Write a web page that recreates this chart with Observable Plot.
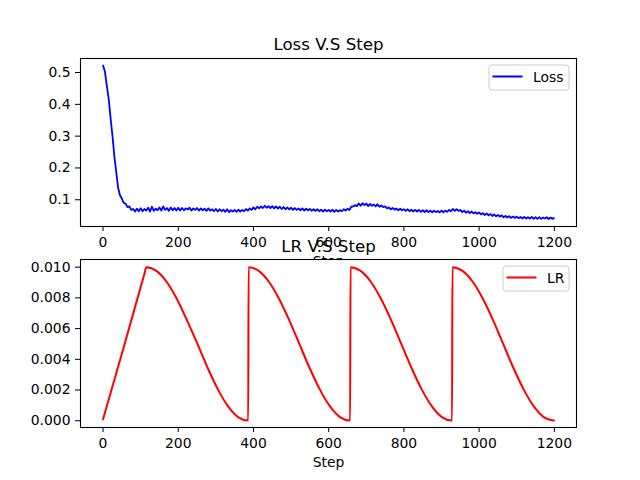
<!DOCTYPE html>
<html>
<head>
<meta charset="utf-8">
<script src="https://cdn.jsdelivr.net/npm/d3@7"></script>
<script src="https://cdn.jsdelivr.net/npm/@observablehq/plot@0.6"></script>
<style>
  body { margin: 0; background: white; }
  #fig { position: relative; width: 640px; height: 480px; background: white; overflow: hidden; }
  #fig svg { position: absolute; left: 0; }
</style>
</head>
<body>
<div id="fig"></div>
<script>
// ---- Data ----
const xTicks = [0, 200, 400, 600, 800, 1000, 1200];
const lossTicks = [0.1, 0.2, 0.3, 0.4, 0.5];
const lrTicks = [0.000, 0.002, 0.004, 0.006, 0.008, 0.010];

// loss sampled every 5 steps (0..1195) plus the last step 1199
const lossSteps = d3.range(0, 1200, 5).concat([1199]);
const lossValues = [
  0.522, 0.503, 0.458, 0.418, 0.357, 0.302, 0.238, 0.188, 0.138, 0.114,
  0.104, 0.090, 0.088, 0.077, 0.079, 0.068, 0.071, 0.063, 0.072, 0.064,
  0.073, 0.064, 0.071, 0.066, 0.075, 0.063, 0.078, 0.065, 0.072, 0.067,
  0.076, 0.066, 0.079, 0.068, 0.074, 0.065, 0.076, 0.067, 0.074, 0.066,
  0.075, 0.066, 0.074, 0.067, 0.073, 0.069, 0.075, 0.066, 0.073, 0.068,
  0.074, 0.066, 0.073, 0.067, 0.072, 0.065, 0.073, 0.066, 0.070, 0.064,
  0.071, 0.063, 0.070, 0.064, 0.069, 0.062, 0.070, 0.061, 0.067, 0.063,
  0.068, 0.062, 0.069, 0.063, 0.068, 0.064, 0.071, 0.066, 0.073, 0.068,
  0.076, 0.070, 0.078, 0.073, 0.079, 0.074, 0.081, 0.075, 0.080, 0.074,
  0.080, 0.073, 0.079, 0.072, 0.078, 0.071, 0.077, 0.070, 0.076, 0.070,
  0.075, 0.068, 0.074, 0.068, 0.073, 0.067, 0.073, 0.066, 0.072, 0.067,
  0.071, 0.065, 0.070, 0.065, 0.070, 0.064, 0.069, 0.063, 0.069, 0.064,
  0.068, 0.063, 0.069, 0.062, 0.068, 0.063, 0.067, 0.064, 0.070, 0.066,
  0.072, 0.068, 0.078, 0.079, 0.083, 0.080, 0.088, 0.081, 0.089, 0.083,
  0.088, 0.080, 0.087, 0.081, 0.085, 0.079, 0.086, 0.078, 0.082, 0.077,
  0.079, 0.073, 0.076, 0.070, 0.074, 0.069, 0.072, 0.067, 0.072, 0.067,
  0.070, 0.065, 0.070, 0.064, 0.069, 0.063, 0.068, 0.063, 0.068, 0.062,
  0.067, 0.061, 0.067, 0.061, 0.066, 0.060, 0.066, 0.061, 0.065, 0.060,
  0.066, 0.060, 0.066, 0.062, 0.068, 0.064, 0.071, 0.065, 0.070, 0.065,
  0.068, 0.061, 0.066, 0.059, 0.064, 0.058, 0.063, 0.057, 0.061, 0.056,
  0.060, 0.054, 0.058, 0.052, 0.057, 0.051, 0.055, 0.049, 0.054, 0.048,
  0.052, 0.047, 0.051, 0.045, 0.049, 0.044, 0.048, 0.043, 0.047, 0.043,
  0.047, 0.042, 0.046, 0.041, 0.046, 0.041, 0.045, 0.041, 0.046, 0.040,
  0.045, 0.040, 0.045, 0.040, 0.044, 0.041, 0.045, 0.039, 0.044, 0.040,
  0.042
];

// learning-rate schedule (warm-up then cosine restarts)
const lrSteps = [
  0, 55, 110, 115, 142, 169, 196, 223, 251, 278, 305, 332, 359, 386,
  387, 414, 441, 468, 495, 522, 549, 576, 603, 630, 657,
  658, 685, 712, 739, 766, 793, 820, 847, 874, 901, 928,
  929, 956, 983, 1010, 1037, 1064, 1091, 1118, 1145, 1172, 1199
];
const lrValues = [
  0.0001, 0.00479, 0.00957, 0.0100, 0.00976, 0.00905, 0.00794, 0.00655, 0.00500, 0.00345, 0.00206, 0.00095, 0.00024, 0.00001,
  0.0100, 0.00976, 0.00905, 0.00794, 0.00655, 0.00500, 0.00345, 0.00206, 0.00095, 0.00024, 0.00001,
  0.0100, 0.00976, 0.00905, 0.00794, 0.00655, 0.00500, 0.00345, 0.00206, 0.00095, 0.00024, 0.00001,
  0.0100, 0.00976, 0.00905, 0.00794, 0.00655, 0.00500, 0.00345, 0.00206, 0.00095, 0.00024, 0.00001
];

const loss = lossSteps.map((s, i) => ({step: s, value: lossValues[i]}));
const lr = lrSteps.map((s, i) => ({step: s, value: lrValues[i]}));

// ---- Layout ----
const font = "'DejaVu Sans', sans-serif";
const baseStyle = {fontFamily: font, fontSize: "13.9px", color: "black", background: "transparent", overflow: "visible"};
const xDomain = [-59.95, 1258.95];

function addLegend(svg, label, color, boxW, frameRight, frameTop) {
  const g = d3.select(svg).append("g");
  const x0 = frameRight - 7 - boxW, y0 = frameTop + 7;
  g.append("rect").attr("x", x0).attr("y", y0).attr("width", boxW).attr("height", 25)
    .attr("rx", 3).attr("fill", "white").attr("fill-opacity", 0.8)
    .attr("stroke", "#cccccc").attr("stroke-width", 1);
  g.append("line").attr("x1", x0 + 3.5).attr("x2", x0 + 33.5).attr("y1", y0 + 11.5).attr("y2", y0 + 11.5)
    .attr("stroke", color).attr("stroke-width", 2);
  g.append("text").attr("x", x0 + 44).attr("y", y0 + 12).attr("dy", "0.35em")
    .attr("text-anchor", "start")
    .attr("fill", "black").attr("font-family", font).attr("font-size", 13.9).text(label);
}

const topChart = Plot.plot({
  width: 640, height: 260,
  marginTop: 58, marginBottom: 34, marginLeft: 80, marginRight: 64,
  style: baseStyle,
  x: {domain: xDomain},
  y: {domain: [0.0159, 0.5441]},
  marks: [
    Plot.line(loss, {x: "step", y: "value", stroke: "blue", strokeWidth: 1.8}),
    Plot.frame({stroke: "black", strokeWidth: 1.1}),
    Plot.axisX({ticks: xTicks, tickSize: 5, tickPadding: 5.5, label: null, tickFormat: d3.format("d")}),
    Plot.axisY({ticks: lossTicks, tickSize: 5, tickPadding: 5, label: null, tickFormat: d3.format(".1f")}),
    Plot.text(["Step"], {frameAnchor: "bottom", dy: 29.5, lineAnchor: "top", fill: "black"}),
    Plot.text(["Loss V.S Step"], {frameAnchor: "top", dy: -8.5, lineAnchor: "bottom", fontSize: 16.67, fill: "black"})
  ]
});
topChart.style.top = "0px";
addLegend(topChart, "Loss", "blue", 80, 576, 58);

const bottomChart = Plot.plot({
  width: 640, height: 280,
  marginTop: 59, marginBottom: 53, marginLeft: 80, marginRight: 64,
  style: baseStyle,
  x: {domain: xDomain},
  y: {domain: [-0.00044, 0.0105]},
  marks: [
    Plot.frame({fill: "white", stroke: null}),
    Plot.line(lr, {x: "step", y: "value", stroke: "red", strokeWidth: 2, curve: "monotone-x"}),
    Plot.frame({stroke: "black", strokeWidth: 1.1}),
    Plot.axisX({ticks: xTicks, tickSize: 5, tickPadding: 5.5, label: null, tickFormat: d3.format("d")}),
    Plot.axisY({ticks: lrTicks, tickSize: 5, tickPadding: 5, label: null, tickFormat: d3.format(".3f")}),
    Plot.text(["Step"], {frameAnchor: "bottom", dy: 29.5, lineAnchor: "top", fill: "black"}),
    Plot.text(["LR V.S Step"], {frameAnchor: "top", dy: -8, lineAnchor: "bottom", fontSize: 16.67, fill: "black"})
  ]
});
bottomChart.style.top = "200px";
addLegend(bottomChart, "LR", "red", 66, 576, 59);

const fig = document.getElementById("fig");
fig.appendChild(topChart);
fig.appendChild(bottomChart);
</script>
</body>
</html>
